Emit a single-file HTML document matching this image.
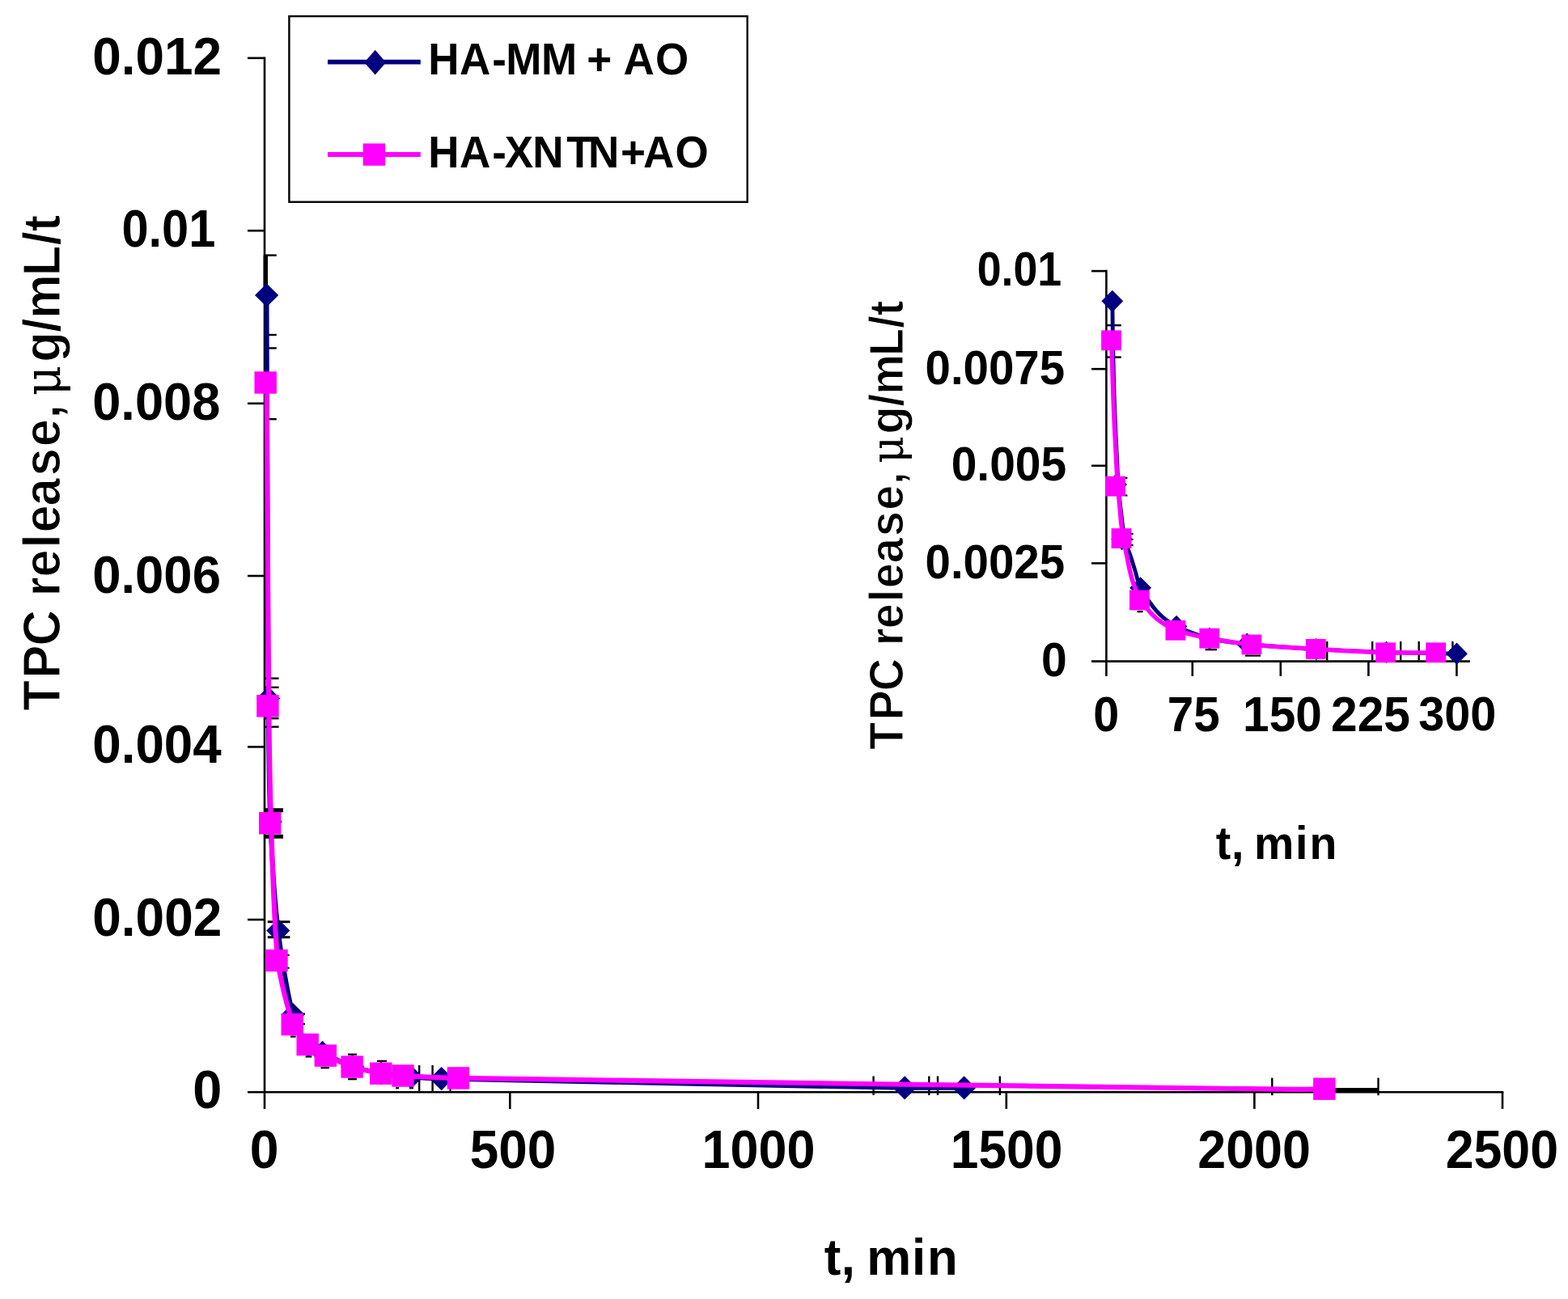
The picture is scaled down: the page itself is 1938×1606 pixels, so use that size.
<!DOCTYPE html>
<html lang="en">
<head>
<meta charset="utf-8">
<title>TPC release</title>
<style>
html,body{margin:0;padding:0;background:#fff;}
body{width:1938px;height:1606px;overflow:hidden;}
svg{display:block;filter:blur(0.6px);}
svg text{font-family:"Liberation Sans",sans-serif;font-weight:bold;fill:#000;}
svg text.thin{stroke:#fff;stroke-width:1.1px;stroke-linejoin:round;}
svg text.thin tspan{stroke:none;}
</style>
</head>
<body>
<svg width="1938" height="1606" viewBox="0 0 1938 1606">
<rect width="1938" height="1606" fill="#fff"/>
<line x1="327.0" y1="70.5" x2="327.0" y2="1371.0" stroke="#000" stroke-width="2.6"/>
<line x1="306.0" y1="1350.2" x2="1858.3" y2="1350.2" stroke="#000" stroke-width="2.6"/>
<line x1="306.0" y1="71.8" x2="327.0" y2="71.8" stroke="#000" stroke-width="2.6"/>
<line x1="306.0" y1="285.2" x2="327.0" y2="285.2" stroke="#000" stroke-width="2.6"/>
<line x1="306.0" y1="498.8" x2="327.0" y2="498.8" stroke="#000" stroke-width="2.6"/>
<line x1="306.0" y1="712.0" x2="327.0" y2="712.0" stroke="#000" stroke-width="2.6"/>
<line x1="306.0" y1="923.4" x2="327.0" y2="923.4" stroke="#000" stroke-width="2.6"/>
<line x1="306.0" y1="1137.0" x2="327.0" y2="1137.0" stroke="#000" stroke-width="2.6"/>
<line x1="630.3" y1="1350.2" x2="630.3" y2="1371.0" stroke="#000" stroke-width="2.6"/>
<line x1="937.0" y1="1350.2" x2="937.0" y2="1371.0" stroke="#000" stroke-width="2.6"/>
<line x1="1243.8" y1="1350.2" x2="1243.8" y2="1371.0" stroke="#000" stroke-width="2.6"/>
<line x1="1550.4" y1="1350.2" x2="1550.4" y2="1371.0" stroke="#000" stroke-width="2.6"/>
<line x1="1857.0" y1="1350.2" x2="1857.0" y2="1371.0" stroke="#000" stroke-width="2.6"/>
<line x1="1367.4" y1="333.8" x2="1367.4" y2="836.0" stroke="#000" stroke-width="2.6"/>
<line x1="1349.0" y1="817.6" x2="1817.0" y2="817.6" stroke="#000" stroke-width="2.6"/>
<line x1="1349.0" y1="335.1" x2="1367.4" y2="335.1" stroke="#000" stroke-width="2.6"/>
<line x1="1349.0" y1="456.2" x2="1367.4" y2="456.2" stroke="#000" stroke-width="2.6"/>
<line x1="1349.0" y1="575.8" x2="1367.4" y2="575.8" stroke="#000" stroke-width="2.6"/>
<line x1="1349.0" y1="696.4" x2="1367.4" y2="696.4" stroke="#000" stroke-width="2.6"/>
<line x1="1473.8" y1="817.6" x2="1473.8" y2="836.0" stroke="#000" stroke-width="2.6"/>
<line x1="1582.8" y1="817.6" x2="1582.8" y2="836.0" stroke="#000" stroke-width="2.6"/>
<line x1="1691.4" y1="817.6" x2="1691.4" y2="836.0" stroke="#000" stroke-width="2.6"/>
<line x1="1800.4" y1="817.6" x2="1800.4" y2="836.0" stroke="#000" stroke-width="2.6"/>
<line x1="328.3" y1="315.6" x2="328.3" y2="366.0" stroke="#000" stroke-width="5.4"/>
<line x1="327.0" y1="315.6" x2="341.8" y2="315.6" stroke="#000" stroke-width="2.4"/>
<line x1="327.0" y1="414.0" x2="341.8" y2="414.0" stroke="#000" stroke-width="2.4"/>
<line x1="327.0" y1="430.4" x2="341.8" y2="430.4" stroke="#000" stroke-width="2.4"/>
<line x1="327.0" y1="518.2" x2="341.8" y2="518.2" stroke="#000" stroke-width="2.4"/>
<line x1="327.0" y1="838.7" x2="344.6" y2="838.7" stroke="#000" stroke-width="2.4"/>
<line x1="327.0" y1="849.8" x2="344.6" y2="849.8" stroke="#000" stroke-width="2.4"/>
<line x1="327.0" y1="888.2" x2="344.6" y2="888.2" stroke="#000" stroke-width="2.4"/>
<line x1="327.0" y1="898.6" x2="344.6" y2="898.6" stroke="#000" stroke-width="2.4"/>
<line x1="327.0" y1="1001.7" x2="350.0" y2="1001.7" stroke="#000" stroke-width="5.0"/>
<line x1="327.0" y1="1034.2" x2="350.0" y2="1034.2" stroke="#000" stroke-width="5.0"/>
<line x1="330.8" y1="1139.7" x2="358.4" y2="1139.7" stroke="#000" stroke-width="3.0"/>
<line x1="330.8" y1="1158.7" x2="358.4" y2="1158.7" stroke="#000" stroke-width="3.0"/>
<line x1="350.0" y1="1180.8" x2="357.6" y2="1180.8" stroke="#000" stroke-width="2.2"/>
<line x1="350.0" y1="1196.7" x2="357.6" y2="1196.7" stroke="#000" stroke-width="2.2"/>
<line x1="370.0" y1="1253.6" x2="377.0" y2="1253.6" stroke="#000" stroke-width="2.2"/>
<line x1="370.0" y1="1266.0" x2="377.0" y2="1266.0" stroke="#000" stroke-width="2.2"/>
<line x1="359.0" y1="1281.6" x2="365.6" y2="1281.6" stroke="#000" stroke-width="2.2"/>
<line x1="377.6" y1="1306.4" x2="385.4" y2="1306.4" stroke="#000" stroke-width="2.2"/>
<line x1="396.4" y1="1320.2" x2="407.0" y2="1320.2" stroke="#000" stroke-width="2.2"/>
<line x1="430.0" y1="1303.6" x2="441.0" y2="1303.6" stroke="#000" stroke-width="2.2"/>
<line x1="466.0" y1="1311.8" x2="478.0" y2="1311.8" stroke="#000" stroke-width="2.2"/>
<line x1="430.0" y1="1334.2" x2="441.0" y2="1334.2" stroke="#000" stroke-width="2.2"/>
<line x1="489.0" y1="1345.2" x2="493.0" y2="1345.2" stroke="#000" stroke-width="2.2"/>
<line x1="506.0" y1="1345.2" x2="511.0" y2="1345.2" stroke="#000" stroke-width="2.2"/>
<line x1="1572.3" y1="1346.6" x2="1703.5" y2="1346.6" stroke="#000" stroke-width="2.4"/>
<line x1="1572.3" y1="1332.6" x2="1572.3" y2="1354.2" stroke="#000" stroke-width="2.4"/>
<line x1="1703.5" y1="1332.6" x2="1703.5" y2="1354.2" stroke="#000" stroke-width="2.4"/>
<line x1="1650.0" y1="1347.6" x2="1703.5" y2="1347.6" stroke="#000" stroke-width="5.4"/>
<line x1="1079.6" y1="1330.5" x2="1079.6" y2="1354.0" stroke="#000" stroke-width="2.4"/>
<line x1="1148.3" y1="1330.5" x2="1148.3" y2="1354.0" stroke="#000" stroke-width="2.4"/>
<line x1="1159.0" y1="1330.5" x2="1159.0" y2="1354.0" stroke="#000" stroke-width="2.4"/>
<line x1="1235.8" y1="1330.5" x2="1235.8" y2="1354.0" stroke="#000" stroke-width="2.4"/>
<line x1="518.2" y1="1317.0" x2="518.2" y2="1349.0" stroke="#000" stroke-width="2.4"/>
<line x1="534.6" y1="1317.0" x2="534.6" y2="1349.0" stroke="#000" stroke-width="2.4"/>
<line x1="556.6" y1="1340.0" x2="556.6" y2="1349.0" stroke="#000" stroke-width="2.4"/>
<path d="M329.6,365.0 C329.9,431.5 330.7,730.5 331.6,863.4 C331.9,904.1 332.5,975.4 334.2,1016.0 C335.7,1051.9 339.6,1114.8 343.8,1150.5 C347.1,1178.4 355.0,1227.5 362.1,1254.5 C365.0,1265.4 374.7,1283.8 381.4,1292.4 C384.5,1296.3 393.9,1299.1 398.6,1301.4 C408.4,1306.1 425.4,1315.0 435.6,1318.6 C444.7,1321.8 461.5,1325.1 471.0,1326.8 C480.8,1328.6 498.1,1330.7 508.0,1331.6 C518.0,1332.5 535.6,1333.4 545.6,1333.6 C698.3,1336.9 965.5,1342.2 1118.2,1344.9 C1137.8,1345.2 1181.8,1344.9 1191.6,1344.9" fill="none" stroke="#000080" stroke-width="5.7" stroke-linejoin="round"/>
<polygon points="329.6,350.4 344.2,365.0 329.6,379.6 315.0,365.0" fill="#000080"/>
<polygon points="331.6,848.8 346.2,863.4 331.6,878.0 317.0,863.4" fill="#000080"/>
<polygon points="334.2,1001.4 348.8,1016.0 334.2,1030.6 319.6,1016.0" fill="#000080"/>
<polygon points="343.8,1135.9 358.4,1150.5 343.8,1165.1 329.2,1150.5" fill="#000080"/>
<polygon points="362.1,1239.9 376.7,1254.5 362.1,1269.1 347.5,1254.5" fill="#000080"/>
<polygon points="381.4,1277.8 396.0,1292.4 381.4,1307.0 366.8,1292.4" fill="#000080"/>
<polygon points="398.6,1286.8 413.2,1301.4 398.6,1316.0 384.0,1301.4" fill="#000080"/>
<polygon points="435.6,1304.0 450.2,1318.6 435.6,1333.2 421.0,1318.6" fill="#000080"/>
<polygon points="471.0,1312.2 485.6,1326.8 471.0,1341.4 456.4,1326.8" fill="#000080"/>
<polygon points="508.0,1317.0 522.6,1331.6 508.0,1346.2 493.4,1331.6" fill="#000080"/>
<polygon points="545.6,1319.0 560.2,1333.6 545.6,1348.2 531.0,1333.6" fill="#000080"/>
<polygon points="1118.2,1330.3 1132.8,1344.9 1118.2,1359.5 1103.6,1344.9" fill="#000080"/>
<polygon points="1191.6,1330.3 1206.2,1344.9 1191.6,1359.5 1177.0,1344.9" fill="#000080"/>
<path d="M329.6,473.0 C330.0,526.3 331.2,766.2 332.3,872.8 C332.7,911.4 333.7,979.1 335.1,1017.7 C336.7,1063.0 338.4,1142.6 343.4,1187.5 C345.8,1209.0 355.2,1246.5 362.6,1266.5 C365.4,1274.2 375.6,1285.8 381.6,1291.4 C386.6,1296.1 397.5,1302.0 403.7,1305.1 C412.2,1309.4 427.5,1316.1 436.5,1319.0 C445.7,1322.0 462.5,1325.5 472.1,1327.2 C479.3,1328.5 492.1,1329.6 499.4,1330.0 C517.6,1331.1 549.5,1332.6 567.8,1332.9 C843.0,1337.1 1324.7,1343.5 1600.0,1346.9 C1610.2,1347.0 1633.1,1346.3 1638.2,1346.2" fill="none" stroke="#ff00ff" stroke-width="6.1" stroke-linejoin="round"/>
<rect x="314.5" y="459.3" width="27.4" height="27.4" fill="#ff00ff"/>
<rect x="317.2" y="859.1" width="27.4" height="27.4" fill="#ff00ff"/>
<rect x="320.0" y="1004.0" width="27.4" height="27.4" fill="#ff00ff"/>
<rect x="328.3" y="1173.8" width="27.4" height="27.4" fill="#ff00ff"/>
<rect x="347.5" y="1252.8" width="27.4" height="27.4" fill="#ff00ff"/>
<rect x="366.5" y="1277.7" width="27.4" height="27.4" fill="#ff00ff"/>
<rect x="388.6" y="1291.4" width="27.4" height="27.4" fill="#ff00ff"/>
<rect x="421.4" y="1305.3" width="27.4" height="27.4" fill="#ff00ff"/>
<rect x="457.0" y="1313.5" width="27.4" height="27.4" fill="#ff00ff"/>
<rect x="484.3" y="1316.3" width="27.4" height="27.4" fill="#ff00ff"/>
<rect x="552.7" y="1319.2" width="27.4" height="27.4" fill="#ff00ff"/>
<rect x="1623.1" y="1332.5" width="27.4" height="27.4" fill="#ff00ff"/>
<line x1="1368.0" y1="402.2" x2="1385.8" y2="402.2" stroke="#000" stroke-width="2.4"/>
<line x1="1368.0" y1="441.6" x2="1385.8" y2="441.6" stroke="#000" stroke-width="2.4"/>
<line x1="1640.2" y1="793.0" x2="1640.2" y2="816.5" stroke="#000" stroke-width="2.4"/>
<line x1="1696.2" y1="793.0" x2="1696.2" y2="816.5" stroke="#000" stroke-width="2.4"/>
<line x1="1731.2" y1="793.0" x2="1731.2" y2="816.5" stroke="#000" stroke-width="2.4"/>
<line x1="1753.7" y1="793.0" x2="1753.7" y2="816.5" stroke="#000" stroke-width="2.4"/>
<line x1="1795.4" y1="793.0" x2="1795.4" y2="816.5" stroke="#000" stroke-width="2.4"/>
<line x1="1391.0" y1="590.8" x2="1393.4" y2="590.8" stroke="#000" stroke-width="2.2"/>
<line x1="1391.0" y1="612.5" x2="1393.4" y2="612.5" stroke="#000" stroke-width="2.2"/>
<line x1="1398.0" y1="660.0" x2="1400.6" y2="660.0" stroke="#000" stroke-width="2.2"/>
<line x1="1398.0" y1="667.0" x2="1400.6" y2="667.0" stroke="#000" stroke-width="2.2"/>
<line x1="1398.0" y1="674.0" x2="1400.6" y2="674.0" stroke="#000" stroke-width="2.2"/>
<line x1="1405.6" y1="756.2" x2="1412.6" y2="756.2" stroke="#000" stroke-width="2.2"/>
<line x1="1489.6" y1="803.2" x2="1504.0" y2="803.2" stroke="#000" stroke-width="2.2"/>
<line x1="1539.0" y1="810.6" x2="1558.0" y2="810.6" stroke="#000" stroke-width="2.2"/>
<path d="M1374.9,372.3 C1375.0,379.5 1375.2,405.7 1375.4,420.0 C1375.5,427.5 1375.8,437.6 1376.0,445.1 C1376.3,457.5 1376.6,474.0 1377.0,486.4 C1377.4,498.8 1378.1,515.3 1378.6,527.7 C1379.0,538.0 1379.8,551.7 1380.3,562.0 C1380.9,573.8 1381.4,589.5 1382.2,601.2 C1382.8,609.8 1384.2,621.2 1385.2,629.7 C1386.5,640.5 1387.7,655.0 1390.0,665.6 C1391.6,673.0 1395.7,682.3 1398.0,689.5 C1399.4,693.9 1401.2,699.9 1402.6,704.4 C1404.6,711.0 1406.4,720.3 1409.4,726.5 C1413.0,733.9 1419.7,742.8 1424.6,749.5 C1427.0,752.8 1430.7,756.9 1433.6,759.8 C1436.1,762.3 1439.7,765.3 1442.6,767.3 C1445.9,769.6 1450.4,772.8 1454.1,774.4 C1466.1,779.5 1482.4,786.3 1495.0,789.4 C1508.6,792.8 1527.4,794.8 1541.4,796.2 C1567.0,798.8 1601.2,801.1 1626.9,802.6 C1652.9,804.1 1687.6,805.6 1713.6,806.4 C1739.7,807.2 1787.5,807.9 1800.5,808.2" fill="none" stroke="#000080" stroke-width="4.9" stroke-linejoin="round"/>
<polygon points="1374.8,358.7 1388.2,372.3 1374.8,385.9 1361.4,372.3" fill="#000080"/>
<polygon points="1379.6,585.4 1393.0,599.0 1379.6,612.6 1366.2,599.0" fill="#000080"/>
<polygon points="1386.6,653.0 1400.0,666.6 1386.6,680.2 1373.2,666.6" fill="#000080"/>
<polygon points="1409.6,713.2 1423.0,726.8 1409.6,740.4 1396.2,726.8" fill="#000080"/>
<polygon points="1454.1,760.8 1467.5,774.4 1454.1,788.0 1440.7,774.4" fill="#000080"/>
<polygon points="1495.0,775.8 1508.4,789.4 1495.0,803.0 1481.6,789.4" fill="#000080"/>
<polygon points="1541.4,782.6 1554.8,796.2 1541.4,809.8 1528.0,796.2" fill="#000080"/>
<polygon points="1626.9,789.0 1640.3,802.6 1626.9,816.2 1613.5,802.6" fill="#000080"/>
<polygon points="1713.6,792.8 1727.0,806.4 1713.6,820.0 1700.2,806.4" fill="#000080"/>
<polygon points="1800.5,794.6 1813.9,808.2 1800.5,821.8 1787.1,808.2" fill="#000080"/>
<path d="M1373.9,420.8 C1374.0,424.4 1374.3,437.8 1374.5,445.1 C1374.9,457.5 1375.4,474.0 1375.8,486.4 C1376.3,498.8 1376.9,515.3 1377.5,527.7 C1378.0,538.0 1378.8,551.7 1379.3,562.0 C1379.5,566.6 1379.8,572.8 1380.1,577.4 C1380.5,584.5 1380.9,594.1 1381.5,601.2 C1382.2,609.8 1383.5,621.1 1384.3,629.7 C1384.7,634.2 1385.0,640.1 1385.5,644.6 C1386.2,650.9 1387.3,659.3 1388.4,665.6 C1389.6,672.8 1391.8,682.3 1393.2,689.5 C1394.1,694.0 1395.2,700.0 1396.2,704.4 C1397.3,708.9 1398.6,715.0 1400.2,719.4 C1402.7,726.3 1406.0,735.8 1409.6,742.1 C1412.4,747.0 1417.8,752.6 1421.6,756.9 C1424.1,759.7 1427.7,763.3 1430.6,765.7 C1433.1,767.8 1436.8,770.2 1439.6,771.9 C1443.7,774.3 1449.0,777.9 1453.5,779.3 C1465.8,783.1 1482.7,786.8 1495.4,789.2 C1510.9,792.1 1531.8,795.3 1547.5,796.9 C1571.2,799.3 1603.1,801.0 1626.9,802.4 C1652.8,803.9 1687.3,806.0 1713.2,806.8 C1731.8,807.4 1766.0,806.8 1775.3,806.8" fill="none" stroke="#ff00ff" stroke-width="5.5" stroke-linejoin="round"/>
<rect x="1361.1" y="408.4" width="24.8" height="24.8" fill="#ff00ff"/>
<rect x="1366.1" y="588.8" width="24.8" height="24.8" fill="#ff00ff"/>
<rect x="1373.6" y="653.2" width="24.8" height="24.8" fill="#ff00ff"/>
<rect x="1396.0" y="729.6" width="24.8" height="24.8" fill="#ff00ff"/>
<rect x="1440.5" y="766.9" width="24.8" height="24.8" fill="#ff00ff"/>
<rect x="1482.4" y="776.8" width="24.8" height="24.8" fill="#ff00ff"/>
<rect x="1534.5" y="784.5" width="24.8" height="24.8" fill="#ff00ff"/>
<rect x="1613.9" y="790.0" width="24.8" height="24.8" fill="#ff00ff"/>
<rect x="1700.2" y="794.4" width="24.8" height="24.8" fill="#ff00ff"/>
<rect x="1762.3" y="794.4" width="24.8" height="24.8" fill="#ff00ff"/>
<rect x="357.4" y="20.1" width="566.3" height="229.6" fill="#fff" stroke="#000" stroke-width="2.4"/>
<line x1="405.0" y1="76.6" x2="519.8" y2="76.6" stroke="#000080" stroke-width="5.8"/>
<polygon points="463.7,61.8 477.1,77.2 463.7,92.6 450.3,77.2" fill="#000080"/>
<line x1="405.0" y1="191.0" x2="519.8" y2="191.0" stroke="#ff00ff" stroke-width="5.8"/>
<rect x="448.7" y="177.4" width="27.4" height="27.4" fill="#ff00ff"/>
<text transform="translate(0 92.40) scale(1.0000 1.0438)" x="529.3 568.0 608.3 625.2 669.0 697.1 725.2 747.9 770.6 810.1" y="0" font-size="53">HA-MM + AO</text>
<text transform="translate(0 207.30) scale(1.0000 1.0438)" x="529.3 568.0 608.3 623.8 658.2 700.2 726.9 766.9 794.9 834.5" y="0" font-size="53">HA-XNTN+AO</text>
<text transform="matrix(0.9829 0 0 1.0109 114.14 92.14)" font-size="65">0.012</text>
<text transform="matrix(0.9170 0 0 1.0087 150.41 305.24)" font-size="65">0.01</text>
<text transform="matrix(0.9731 0 0 1.0087 114.17 519.04)" font-size="65">0.008</text>
<text transform="matrix(0.9762 0 0 1.0000 114.16 732.65)" font-size="65">0.006</text>
<text transform="matrix(0.9803 0 0 1.0152 114.25 943.44)" font-size="65">0.004</text>
<text transform="matrix(0.9841 0 0 1.0174 114.24 1156.74)" font-size="65">0.002</text>
<text transform="matrix(0.9968 0 0 1.0186 238.31 1370.29)" font-size="65">0</text>
<text transform="matrix(0.9903 0 0 1.0251 308.72 1444.39)" font-size="65">0</text>
<text transform="matrix(0.9822 0 0 1.0251 580.74 1444.39)" font-size="65">500</text>
<text transform="matrix(0.9681 0 0 1.0251 867.53 1444.39)" font-size="65">1000</text>
<text transform="matrix(0.9594 0 0 1.0196 1174.76 1444.14)" font-size="65">1500</text>
<text transform="matrix(0.9667 0 0 1.0251 1480.22 1444.39)" font-size="65">2000</text>
<text transform="matrix(0.9646 0 0 1.0196 1786.63 1444.14)" font-size="65">2500</text>
<text transform="matrix(0.9191 0 0 1.0048 1207.63 353.20)" font-size="58.5">0.01</text>
<text transform="matrix(0.9646 0 0 1.0024 1143.53 474.70)" font-size="58.5">0.0075</text>
<text transform="matrix(0.9733 0 0 1.0024 1175.71 594.10)" font-size="58.5">0.005</text>
<text transform="matrix(0.9646 0 0 1.0120 1143.53 715.09)" font-size="58.5">0.0025</text>
<text transform="matrix(0.9750 0 0 1.0024 1287.11 836.10)" font-size="58.5">0</text>
<text transform="matrix(0.9821 0 0 1.0289 1351.29 903.69)" font-size="58.5">0</text>
<text transform="matrix(0.9984 0 0 1.0479 1442.80 903.68)" font-size="58.5">75</text>
<text transform="matrix(1.0022 0 0 1.0289 1536.04 903.69)" font-size="58.5">150</text>
<text transform="matrix(1.0032 0 0 1.0352 1644.99 903.68)" font-size="58.5">225</text>
<text transform="matrix(0.9845 0 0 1.0228 1753.22 903.43)" font-size="58.5">300</text>
<text transform="translate(0 1575.70) scale(0.9500 0.9650)" x="1072.5 1094.5 1111.0 1127.6 1186.4 1206.3" y="0" font-size="65">t, min</text>
<text transform="translate(0 1061.90) scale(0.9500 0.9700)" x="1581.9 1602.1 1616.9 1631.6 1685.4 1703.8" y="0" font-size="58.5">t, min</text>
<text class="thin" transform="matrix(0 -0.9469 1.0056 0 73.70 1000.00)" x="128.0 170.3 212.8 245.1 277.5 302.5 340.5 360.6 395.6 434.6 472.8 509.7 524.6 539.5 583.3 622.2 640.0 695.7 735.7 753.9" y="0" font-size="65">TPC release, <tspan font-family="'DejaVu Serif', 'Liberation Serif', serif" font-weight="normal" font-size="0.93em">μ</tspan>g/mL/t</text>
<text class="thin" transform="matrix(0 -0.9547 1.0087 0 1116.10 1000.00)" x="76.4 114.7 152.6 181.9 211.2 233.4 268.0 285.8 318.2 352.7 386.9 420.0 433.8 447.5 485.4 521.2 536.5 586.6 622.4 638.7" y="0" font-size="58.5">TPC release, <tspan font-family="'DejaVu Serif', 'Liberation Serif', serif" font-weight="normal" font-size="0.93em">μ</tspan>g/mL/t</text>
</svg>
</body>
</html>
